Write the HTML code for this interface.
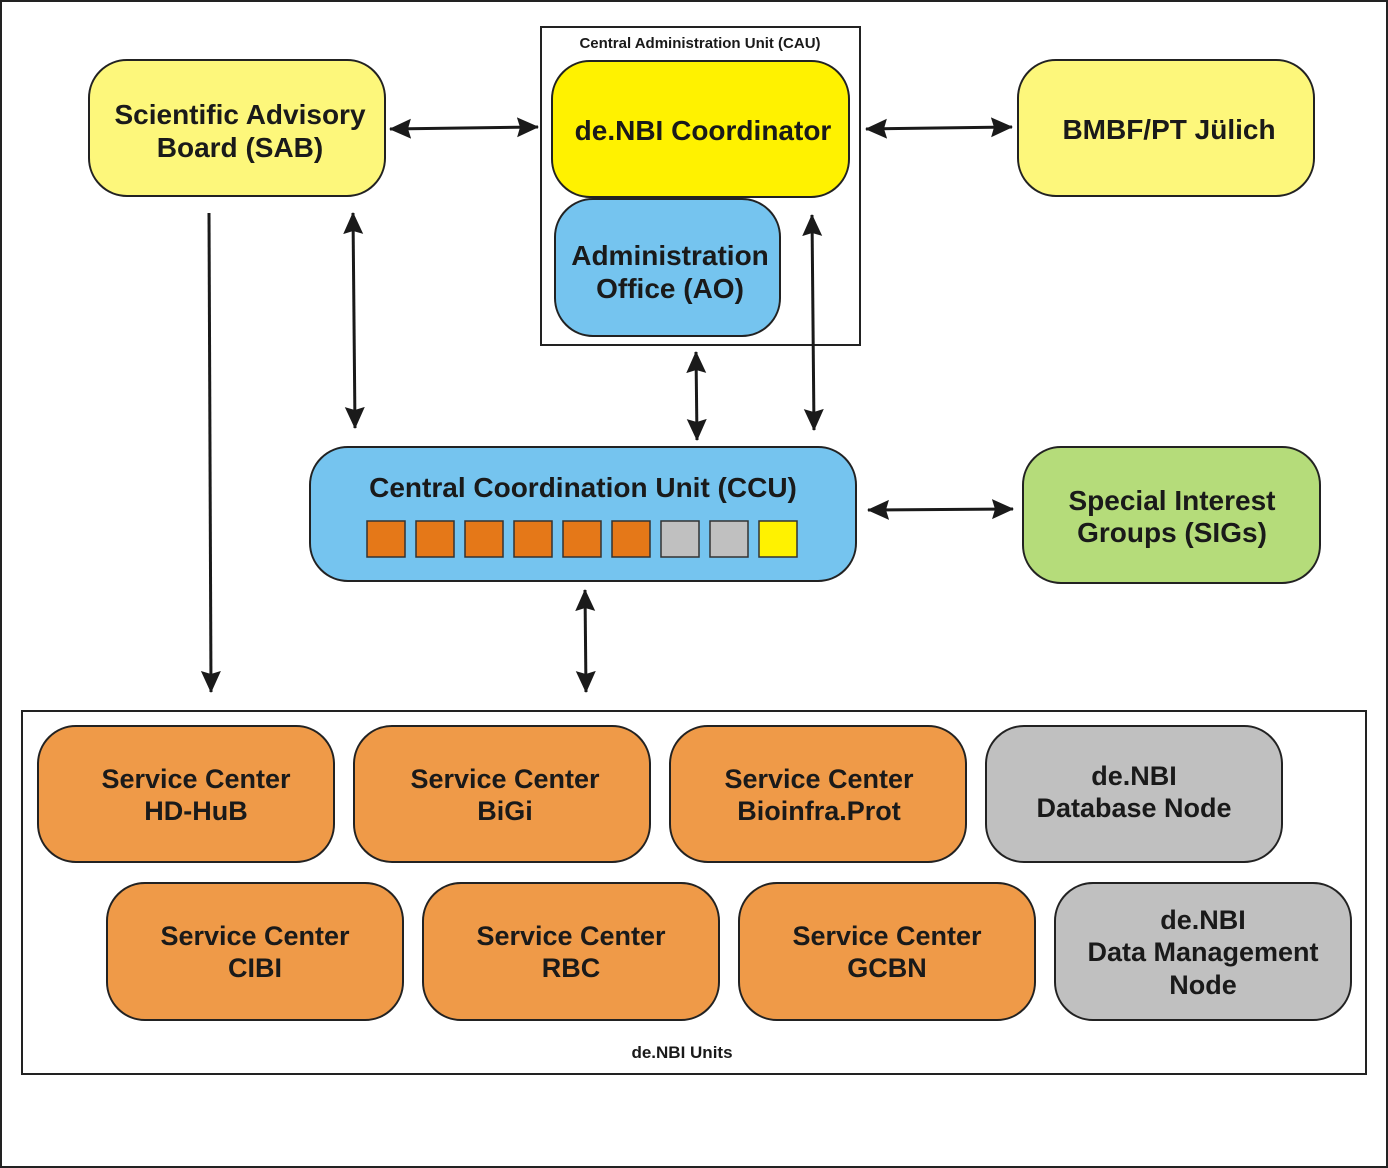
<!DOCTYPE html>
<html><head><meta charset="utf-8"><style>html,body{margin:0;padding:0;background:#fff}svg{display:block}text{font-family:"Liberation Sans",Arial,sans-serif;font-weight:bold;fill:#1a1a1a;text-anchor:middle}</style></head>
<body>
<svg width="1388" height="1168" viewBox="0 0 1388 1168" xmlns="http://www.w3.org/2000/svg">
<defs>
<marker id="b" viewBox="0 0 22 22" refX="21" refY="11" markerWidth="22" markerHeight="22" markerUnits="userSpaceOnUse" orient="auto-start-reverse"><path d="M0,1 L22,11 L0,21 L3,11 z" fill="#1a1a1a"/></marker></defs>
<rect x="1" y="1" width="1386" height="1166" fill="#fff" stroke="#222" stroke-width="2"/>
<g stroke="#222" stroke-width="2">
<rect x="541" y="27" width="319" height="318" fill="#fff"/>
<rect x="22" y="711" width="1344" height="363" fill="#fff"/>
<rect x="89" y="60" width="296" height="136" rx="38" fill="#fdf77b"/>
<rect x="1018" y="60" width="296" height="136" rx="38" fill="#fdf77b"/>
<rect x="552" y="61" width="297" height="136" rx="38" fill="#fff200"/>
<rect x="555" y="199" width="225" height="137" rx="38" fill="#75c4ef"/>
<rect x="310" y="447" width="546" height="134" rx="38" fill="#75c4ef"/>
<rect x="1023" y="447" width="297" height="136" rx="38" fill="#b5dc7a"/>
<g fill="#ef9a48">
<rect x="38" y="726" width="296" height="136" rx="38"/>
<rect x="354" y="726" width="296" height="136" rx="38"/>
<rect x="670" y="726" width="296" height="136" rx="38"/>
<rect x="107" y="883" width="296" height="137" rx="38"/>
<rect x="423" y="883" width="296" height="137" rx="38"/>
<rect x="739" y="883" width="296" height="137" rx="38"/>
</g>
<rect x="986" y="726" width="296" height="136" rx="38" fill="#c0c0c0"/>
<rect x="1055" y="883" width="296" height="137" rx="38" fill="#c0c0c0"/>
</g>
<g stroke="#333" stroke-width="1.5">
<rect x="367" y="521" width="38" height="36" fill="#e57818"/>
<rect x="416" y="521" width="38" height="36" fill="#e57818"/>
<rect x="465" y="521" width="38" height="36" fill="#e57818"/>
<rect x="514" y="521" width="38" height="36" fill="#e57818"/>
<rect x="563" y="521" width="38" height="36" fill="#e57818"/>
<rect x="612" y="521" width="38" height="36" fill="#e57818"/>
<rect x="661" y="521" width="38" height="36" fill="#c0c0c0"/>
<rect x="710" y="521" width="38" height="36" fill="#c0c0c0"/>
<rect x="759" y="521" width="38" height="36" fill="#fff200"/>
</g>
<g stroke="#1a1a1a" stroke-width="3" fill="none">
<line x1="390" y1="129" x2="538" y2="127" marker-start="url(#b)" marker-end="url(#b)"/>
<line x1="866" y1="129" x2="1012" y2="127" marker-start="url(#b)" marker-end="url(#b)"/>
<line x1="209" y1="213" x2="211" y2="692" marker-end="url(#b)"/>
<line x1="353" y1="213" x2="355" y2="428" marker-start="url(#b)" marker-end="url(#b)"/>
<line x1="696" y1="352" x2="697" y2="440" marker-start="url(#b)" marker-end="url(#b)"/>
<line x1="812" y1="215" x2="814" y2="430" marker-start="url(#b)" marker-end="url(#b)"/>
<line x1="868" y1="510" x2="1013" y2="509" marker-start="url(#b)" marker-end="url(#b)"/>
<line x1="585" y1="590" x2="586" y2="692" marker-start="url(#b)" marker-end="url(#b)"/>
</g>
<text x="700" y="48" font-size="15">Central Administration Unit (CAU)</text>
<text x="240" y="124" font-size="28">Scientific Advisory</text>
<text x="240" y="157" font-size="28">Board (SAB)</text>
<text x="703" y="140" font-size="28">de.NBI Coordinator</text>
<text x="1169" y="139" font-size="28">BMBF/PT Jülich</text>
<text x="670" y="265" font-size="28">Administration</text>
<text x="670" y="298" font-size="28">Office (AO)</text>
<text x="583" y="497" font-size="28">Central Coordination Unit (CCU)</text>
<text x="1172" y="510" font-size="28">Special Interest</text>
<text x="1172" y="542" font-size="28">Groups (SIGs)</text>
<g font-size="27">
<text x="196" y="788">Service Center</text><text x="196" y="820">HD-HuB</text>
<text x="505" y="788">Service Center</text><text x="505" y="820">BiGi</text>
<text x="819" y="788">Service Center</text><text x="819" y="820">Bioinfra.Prot</text>
<text x="1134" y="785">de.NBI</text><text x="1134" y="817">Database Node</text>
<text x="255" y="945">Service Center</text><text x="255" y="977">CIBI</text>
<text x="571" y="945">Service Center</text><text x="571" y="977">RBC</text>
<text x="887" y="945">Service Center</text><text x="887" y="977">GCBN</text>
<text x="1203" y="929">de.NBI</text><text x="1203" y="961">Data Management</text><text x="1203" y="994">Node</text>
</g>
<text x="682" y="1058" font-size="17">de.NBI Units</text>
</svg>
</body></html>
